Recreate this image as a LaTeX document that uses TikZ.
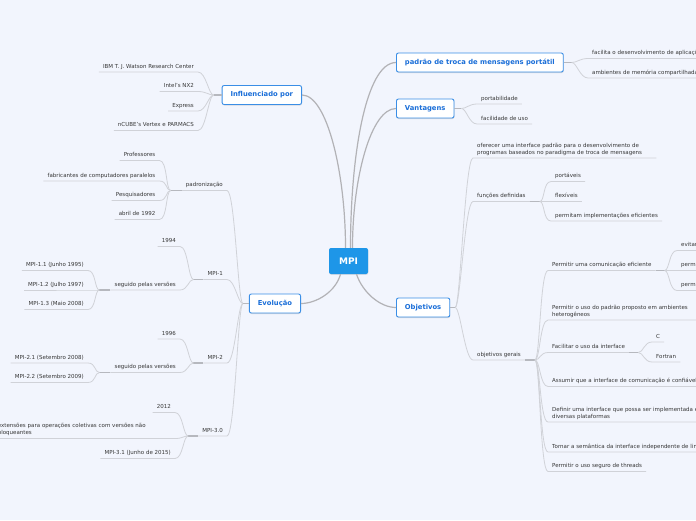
\documentclass[tikz,border=0pt]{standalone}
\usepackage{fontspec}
\setmainfont{DejaVu Sans}
\usetikzlibrary{calc,shadows}
\definecolor{bg}{HTML}{F2F5FD}
\definecolor{mpiblue}{HTML}{1E96E8}
\definecolor{topicborder}{HTML}{3A8EE6}
\definecolor{topictext}{HTML}{1A6ED8}
\definecolor{leafc}{HTML}{363636}
\definecolor{linec}{HTML}{D0D2D8}
\definecolor{stubc}{HTML}{B6B8BE}
\definecolor{mainlinec}{HTML}{B2B2B6}
\newcommand{\leaffont}{\fontsize{5.5}{6.8}\selectfont}
\newcommand{\topicfont}{\fontsize{6.8}{8}\selectfont\bfseries}
\newcommand{\linkR}[2]{\draw[sublink] (#1) .. controls +(5,0) and +(-8,0) .. (#2.south west) -- (#2.south east);}
\newcommand{\linkL}[2]{\draw[sublink] (#1) .. controls +(-5,0) and +(8,0) .. (#2.south east) -- (#2.south west);}
\begin{document}
\begin{tikzpicture}[x=1pt,y=-1pt,
  central/.style={fill=mpiblue, rounded corners=2pt, minimum width=39pt, minimum height=26pt,
    text=white, font=\fontsize{9}{10}\selectfont\bfseries, inner sep=0pt,
    drop shadow={shadow xshift=0.3pt,shadow yshift=-0.8pt,opacity=0.2}},
  topic/.style={fill=white, draw=topicborder, line width=0.9pt, rounded corners=2pt,
    minimum height=19pt, inner xsep=8.5pt, inner ysep=0pt, text=topictext, font=\topicfont,
    drop shadow={shadow xshift=0.4pt,shadow yshift=-1pt,opacity=0.25}},
  leaf/.style={inner xsep=4pt, inner ysep=2.2pt, text height=4.2pt, text depth=1.3pt,
    font=\leaffont, text=leafc},
  leafm/.style={inner xsep=4pt, inner ysep=2.4pt, align=left,
    font=\leaffont, text=leafc},
  wide/.style={text width=#1, align=left},
  mainlink/.style={draw=mainlinec, line width=1.2pt},
  sublink/.style={draw=linec, line width=0.8pt},
  stublink/.style={draw=stubc, line width=1.3pt}
]
\useasboundingbox (0,0) rectangle (696,520);
\fill[bg] (0,0) rectangle (696,520);

% ---------- central and main topics ----------
\node[central] (mpi) at (348.5,261) {MPI};
\node[topic, anchor=west] (pad) at (396,62.5) {padrão de troca de mensagens portátil};
\node[topic, anchor=west] (van) at (396,108.5) {Vantagens};
\node[topic, anchor=west] (obj) at (396,307.5) {Objetivos};
\node[topic, anchor=east] (inf) at (302,95) {Influenciado por};
\node[topic, anchor=east] (evo) at (301,303.5) {Evolução};

\draw[mainlink] ($(mpi.north)+(2,0)$) .. controls +(0,-93) and +(-30,0) .. (pad.west);
\draw[mainlink] ($(mpi.north)+(4,0)$) .. controls +(0,-70) and +(-25,0) .. (van.west);
\draw[mainlink] ($(mpi.north)+(-3,0)$) .. controls +(0,-75) and +(25,0) .. (inf.east);
\draw[mainlink] ($(mpi.south)+(-8,0)$) .. controls +(-5,18) and +(15,0) .. (evo.east);
\draw[mainlink] ($(mpi.south)+(8,0)$) .. controls +(6,18) and +(-16,0) .. (obj.west);

% ---------- padrão de troca ----------
\node[leaf, wide=200pt, anchor=south west] (pad1) at (588,58.5) {facilita o desenvolvimento de aplicações};
\node[leaf, wide=200pt, anchor=south west] (pad2) at (588,78) {ambientes de memória compartilhada};
\draw[stublink] (pad.east) -- ++(8,0) coordinate (pad-o);
\linkR{pad-o}{pad1}
\linkR{pad-o}{pad2}

% ---------- Vantagens ----------
\node[leaf, anchor=south west] (van1) at (477,104) {portabilidade};
\node[leaf, anchor=south west] (van2) at (477,124) {facilidade de uso};
\draw[stublink] (van.east) -- ++(7,0) coordinate (van-o);
\linkR{van-o}{van1}
\linkR{van-o}{van2}

% ---------- Objetivos ----------
\node[leafm, text width=175pt, anchor=south west] (obj1) at (473,158)
  {oferecer uma interface padrão para o desenvolvimento de\\programas baseados no paradigma de troca de mensagens};
\node[leaf, anchor=south west] (obj2) at (473,201.5) {funções definidas};
\node[leaf, anchor=south west] (obj3) at (473,360) {objetivos gerais};
\draw[stublink] (obj.east) -- ++(5,0) coordinate (obj-o);
\linkR{obj-o}{obj1}
\linkR{obj-o}{obj2}
\linkR{obj-o}{obj3}

\node[leaf, anchor=south west] (fd1) at (551,181.5) {portáveis};
\node[leaf, anchor=south west] (fd2) at (551,201.5) {flexíveis};
\node[leaf, anchor=south west] (fd3) at (551,221) {permitam implementações eficientes};
\draw[stublink] (obj2.south east) -- ++(10,0) coordinate (obj2-o);
\linkR{obj2-o}{fd1}
\linkR{obj2-o}{fd2}
\linkR{obj2-o}{fd3}

\node[leaf, anchor=south west] (og1) at (548,270.5) {Permitir uma comunicação eficiente};
\node[leafm, text width=200pt, anchor=south west] (og2) at (548,320)
  {Permitir o uso do padrão proposto em ambientes\\heterogêneos};
\node[leaf, anchor=south west] (og3) at (548,352.5) {Facilitar o uso da interface};
\node[leaf, wide=200pt, anchor=south west] (og4) at (548,386.5) {Assumir que a interface de comunicação é confiável};
\node[leafm, text width=200pt, anchor=south west] (og5) at (548,422)
  {Definir uma interface que possa ser implementada em\\diversas plataformas};
\node[leaf, wide=200pt, anchor=south west] (og6) at (548,452) {Tornar a semântica da interface independente de linguagem};
\node[leaf, anchor=south west] (og7) at (548,471.5) {Permitir o uso seguro de threads};
\draw[stublink] (obj3.south east) -- ++(10,0) coordinate (obj3-o);
\linkR{obj3-o}{og1}
\linkR{obj3-o}{og2}
\linkR{obj3-o}{og3}
\linkR{obj3-o}{og4}
\linkR{obj3-o}{og5}
\linkR{obj3-o}{og6}
\linkR{obj3-o}{og7}

\node[leaf, wide=40pt, anchor=south west] (ce1) at (677,250.5) {evitar};
\node[leaf, wide=40pt, anchor=south west] (ce2) at (677,270.5) {permitir};
\node[leaf, wide=40pt, anchor=south west] (ce3) at (677,290.5) {permitir};
\draw[stublink] (og1.south east) -- ++(9,0) coordinate (og1-o);
\linkR{og1-o}{ce1}
\linkR{og1-o}{ce2}
\linkR{og1-o}{ce3}

\node[leaf, anchor=south west] (lc) at (652,342) {C};
\node[leaf, anchor=south west] (lf) at (652,362) {Fortran};
\draw[stublink] (og3.south east) -- ++(9,0) coordinate (og3-o);
\linkR{og3-o}{lc}
\linkR{og3-o}{lf}

% ---------- Influenciado por ----------
\node[leaf, anchor=south east] (inf1) at (198,72) {IBM T. J. Watson Research Center};
\node[leaf, anchor=south east] (inf2) at (198,91.5) {Intel's NX2};
\node[leaf, anchor=south east] (inf3) at (198,111) {Express};
\node[leaf, anchor=south east] (inf4) at (198,130.5) {nCUBE's Vertex e PARMACS};
\draw[stublink] (inf.west) -- ++(-8,0) coordinate (inf-o);
\linkL{inf-o}{inf1}
\linkL{inf-o}{inf2}
\linkL{inf-o}{inf3}
\linkL{inf-o}{inf4}

% ---------- Evolução ----------
\node[leaf, anchor=south east] (padr) at (227,190.5) {padronização};
\node[leaf, anchor=south east] (m1) at (227,279.5) {MPI-1};
\node[leaf, anchor=south east] (m2) at (227,363) {MPI-2};
\node[leaf, anchor=south east] (m3) at (227,436) {MPI-3.0};
\draw[stublink] (evo.west) -- ++(-6,0) coordinate (evo-o);
\linkL{evo-o}{padr}
\linkL{evo-o}{m1}
\linkL{evo-o}{m2}
\linkL{evo-o}{m3}

\node[leaf, anchor=south east] (p1) at (159.5,160.5) {Professores};
\node[leaf, anchor=south east] (p2) at (159.5,181) {fabricantes de computadores paralelos};
\node[leaf, anchor=south east] (p3) at (159.5,200.5) {Pesquisadores};
\node[leaf, anchor=south east] (p4) at (159.5,219.5) {abril de 1992};
\draw[stublink] (padr.south west) -- ++(-11,0) coordinate (padr-o);
\linkL{padr-o}{p1}
\linkL{padr-o}{p2}
\linkL{padr-o}{p3}
\linkL{padr-o}{p4}

\node[leaf, anchor=south east] (y94) at (180,246.5) {1994};
\node[leaf, anchor=south east] (s1) at (180,290) {seguido pelas versões};
\draw[stublink] (m1.south west) -- ++(-10,0) coordinate (m1-o);
\linkL{m1-o}{y94}
\linkL{m1-o}{s1}
\node[leaf, anchor=south east] (v11) at (88,270.5) {MPI-1.1 (Junho 1995)};
\node[leaf, anchor=south east] (v12) at (88,290) {MPI-1.2 (Julho 1997)};
\node[leaf, anchor=south east] (v13) at (88,309.5) {MPI-1.3 (Maio 2008)};
\draw[stublink] (s1.south west) -- ++(-11,0) coordinate (s1-o);
\linkL{s1-o}{v11}
\linkL{s1-o}{v12}
\linkL{s1-o}{v13}

\node[leaf, anchor=south east] (y96) at (180,339) {1996};
\node[leaf, anchor=south east] (s2) at (180,372.5) {seguido pelas versões};
\draw[stublink] (m2.south west) -- ++(-10,0) coordinate (m2-o);
\linkL{m2-o}{y96}
\linkL{m2-o}{s2}
\node[leaf, anchor=south east] (v21) at (88,363) {MPI-2.1 (Setembro 2008)};
\node[leaf, anchor=south east] (v22) at (88,382.5) {MPI-2.2 (Setembro 2009)};
\draw[stublink] (s2.south west) -- ++(-11,0) coordinate (s2-o);
\linkL{s2-o}{v21}
\linkL{s2-o}{v22}

\node[leaf, anchor=south east] (y12) at (175,412.5) {2012};
\node[leafm, text width=173pt, anchor=south east] (ext) at (175,438.5)
  {extensões para operações coletivas com versões não\\bloqueantes};
\node[leaf, anchor=south east] (v31) at (175,458.5) {MPI-3.1 (Junho de 2015)};
\draw[stublink] (m3.south west) -- ++(-10,0) coordinate (m3-o);
\linkL{m3-o}{y12}
\linkL{m3-o}{ext}
\linkL{m3-o}{v31}
\end{tikzpicture}
\end{document}
